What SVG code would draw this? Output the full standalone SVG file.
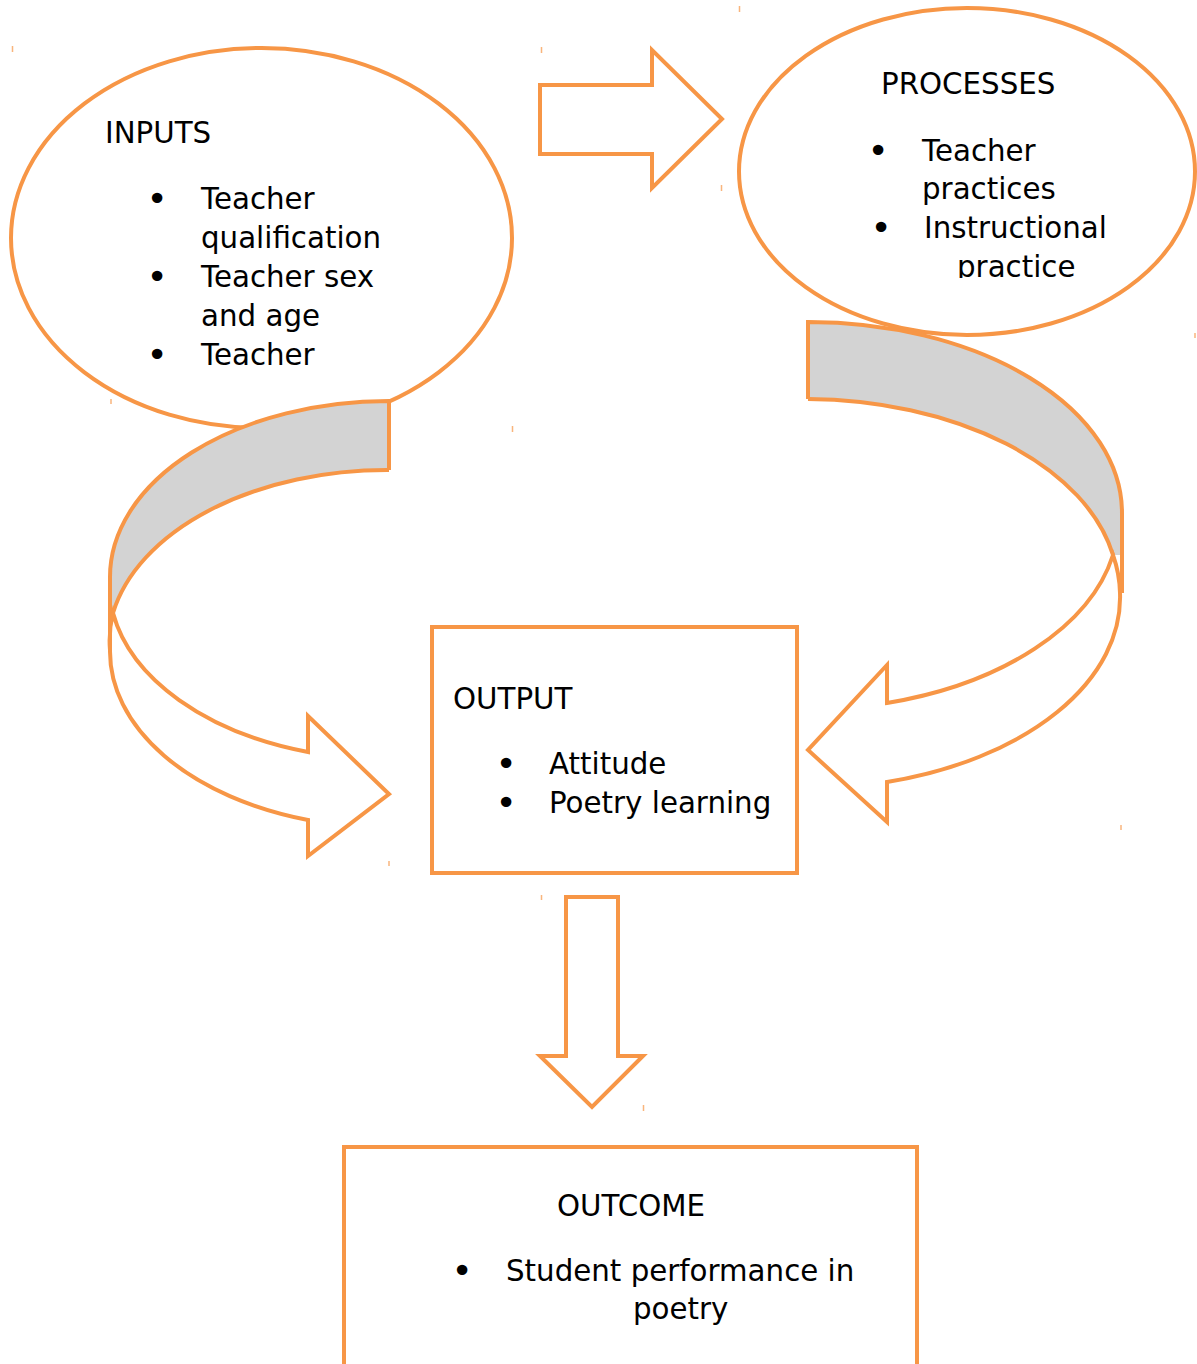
<svg xmlns="http://www.w3.org/2000/svg" width="1197" height="1364" viewBox="0 0 1197 1364">
<style>
.shape{fill:#FFFFFF;stroke:#F79646;stroke-width:4;stroke-linejoin:miter}
.backfill{fill:#D3D3D3;stroke:none}
.edge{fill:none;stroke:#F79646;stroke-width:4;stroke-linejoin:miter}
.t{font-family:"DejaVu Sans","Liberation Sans",sans-serif;font-size:29.3px;fill:#000000}
.b{font-family:"DejaVu Sans","Liberation Sans",sans-serif;font-size:36px;fill:#000000;text-anchor:middle}
.tick{stroke:#F79646;stroke-width:1.5;opacity:0.7}
</style>
<defs>
<clipPath id="procClip"><rect x="700" y="0" width="497" height="278"/></clipPath>
</defs>
<rect x="0" y="0" width="1197" height="1364" fill="#FFFFFF"/>

<g id="inputs">
<ellipse class="shape" cx="261.5" cy="238" rx="250.5" ry="190"/>
<text class="t" x="105" y="143">INPUTS</text>
<text class="b" x="157" y="211">•</text>
<text class="t" x="201" y="209">Teacher</text>
<text class="t" x="201" y="248">qualification</text>
<text class="b" x="157" y="289">•</text>
<text class="t" x="201" y="287">Teacher sex</text>
<text class="t" x="201" y="326">and age</text>
<text class="b" x="157" y="367">•</text>
<text class="t" x="201" y="365">Teacher</text>
</g>

<g id="processes">
<ellipse class="shape" cx="967" cy="171.5" rx="228" ry="163.5"/>
<g clip-path="url(#procClip)">
<text class="t" x="881" y="94">PROCESSES</text>
<text class="b" x="878" y="163">•</text>
<text class="t" x="922" y="161">Teacher</text>
<text class="t" x="922" y="199">practices</text>
<text class="b" x="881" y="240">•</text>
<text class="t" x="924" y="238">Instructional</text>
<text class="t" x="957" y="277">practice</text>
</g>
</g>

<g id="connectors">
<g id="arrow-inputs-output">
<path class="backfill" d="M 389 401 A 279 176 0 0 0 110 577 L 110 613 L 113 613 A 279 176 0 0 1 389 470 Z"/>
<path class="shape" d="M 113 613 A 279 176 0 0 0 110 650 A 279 176 0 0 0 308 820 L 308 856 L 389 794 L 308 716 L 308 752 A 279 176 0 0 1 113 613 Z"/>
<path class="edge" d="M 389 470 L 389 401 A 279 176 0 0 0 110 577 L 110 650"/>
<path class="edge" d="M 389 470 A 279 176 0 0 0 113 613"/>
</g>
<g id="arrow-processes-output">
<path class="backfill" d="M 808 322 A 314 191 0 0 1 1122 513 L 1122 555 L 1113 555 A 314 191 0 0 0 808 399 Z"/>
<path class="shape" d="M 1113 555 A 312 191 0 0 1 1120 593 A 314 191 0 0 1 887 782 L 887 822 L 808 750 L 887 665 L 887 703 A 314 191 0 0 0 1113 555 Z"/>
<path class="edge" d="M 808 399 L 808 322 A 314 191 0 0 1 1122 513 L 1122 593"/>
<path class="edge" d="M 808 399 A 314 191 0 0 1 1113 555"/>
</g>
<path id="arrow-inputs-processes" class="shape" d="M 540 85 L 652 85 L 652 50 L 722 119 L 652 188 L 652 154 L 540 154 Z"/>
<path id="arrow-output-outcome" class="shape" d="M 566 897 L 618 897 L 618 1056 L 643 1056 L 592 1107 L 540 1056 L 566 1056 Z"/>
</g>

<g id="output">
<rect class="shape" x="432" y="627" width="365" height="246"/>
<text class="t" x="453" y="709">OUTPUT</text>
<text class="b" x="506" y="776">•</text>
<text class="t" x="549" y="774">Attitude</text>
<text class="b" x="506" y="815">•</text>
<text class="t" x="549" y="813">Poetry learning</text>
</g>

<g id="outcome">
<rect class="shape" x="344" y="1147" width="573" height="240"/>
<text class="t" x="557" y="1216">OUTCOME</text>
<text class="b" x="462" y="1283">•</text>
<text class="t" x="506" y="1281">Student performance in</text>
<text class="t" x="633" y="1319">poetry</text>
</g>

<g id="marks">
<line class="tick" x1="12.5" y1="46" x2="12.5" y2="52"/>
<line class="tick" x1="541.5" y1="47" x2="541.5" y2="53"/>
<line class="tick" x1="739.5" y1="6" x2="739.5" y2="12"/>
<line class="tick" x1="721.5" y1="185" x2="721.5" y2="191"/>
<line class="tick" x1="111" y1="399" x2="111" y2="404"/>
<line class="tick" x1="512.5" y1="426" x2="512.5" y2="432"/>
<line class="tick" x1="389" y1="861" x2="389" y2="866"/>
<line class="tick" x1="541.5" y1="895" x2="541.5" y2="900"/>
<line class="tick" x1="643.5" y1="1105" x2="643.5" y2="1111"/>
<line class="tick" x1="1121" y1="825" x2="1121" y2="830"/>
<line class="tick" x1="1195" y1="333" x2="1195" y2="338"/>
</g>
</svg>
